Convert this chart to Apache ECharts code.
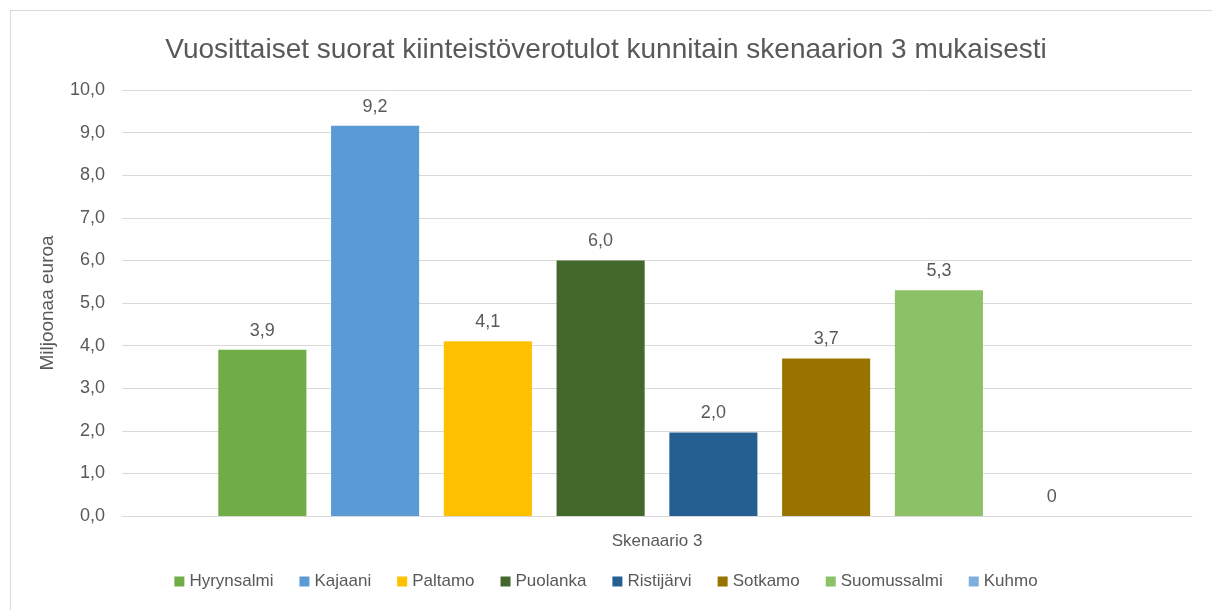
<!DOCTYPE html>
<html>
<head>
<meta charset="utf-8">
<script src="https://cdn.jsdelivr.net/npm/echarts@6/dist/echarts.min.js"></script>
<style>
  html, body { margin: 0; padding: 0; background: #ffffff; }
  #frame { position: absolute; left: 10px; top: 10px; width: 1210px; height: 610px; border: 1px solid #d9d9d9; box-sizing: border-box; }
  #main { position: absolute; left: 0; top: 0; width: 1212px; height: 610px; }
</style>
</head>
<body>
<div id="frame"></div>
<div id="main"></div>
<script>
var categories = ['Skenaario 3'];
var kunnat = ['Hyrynsalmi', 'Kajaani', 'Paltamo', 'Puolanka', 'Ristijärvi', 'Sotkamo', 'Suomussalmi', 'Kuhmo'];
var arvot = [3.9, 9.16, 4.1, 6.0, 1.96, 3.7, 5.3, 0];
var varit = ['#70AD47', '#5B9BD5', '#FFC000', '#43682B', '#255E91', '#997300', '#8CC168', '#7CAFDD'];
var yTicks = { min: 0, max: 10, interval: 1 };

var fontName = 'Liberation Sans';
var textColor = '#595959';

function fmt (v) {
    if (v === 0) return '0';
    return v.toFixed(1).replace('.', ',');
}

var option = {
    animation: false,
    title: {
        text: 'Vuosittaiset suorat kiinteistöverotulot kunnitain skenaarion 3 mukaisesti',
        left: 'center',
        top: 31,
        textStyle: { fontFamily: fontName, fontSize: 28, fontWeight: 'normal', color: textColor }
    },
    legend: {
        data: kunnat,
        bottom: 15,
        left: 'center',
        icon: 'rect',
        itemWidth: 10,
        itemHeight: 10,
        itemGap: 26,
        textStyle: { fontFamily: fontName, fontSize: 17, color: textColor }
    },
    grid: { left: 122, right: 20, top: 90, bottom: 94, containLabel: false },
    xAxis: {
        type: 'category',
        data: categories,
        axisLine: { lineStyle: { color: '#d9d9d9' } },
        axisTick: { show: false },
        axisLabel: { fontFamily: fontName, fontSize: 17, color: textColor, margin: 17 }
    },
    yAxis: {
        type: 'value',
        min: yTicks.min,
        max: yTicks.max,
        interval: yTicks.interval,
        name: 'Miljoonaa euroa',
        nameLocation: 'middle',
        nameGap: 65,
        nameTextStyle: { fontFamily: fontName, fontSize: 19, color: textColor },
        axisLine: { show: false },
        axisTick: { show: false },
        splitLine: { lineStyle: { color: '#d9d9d9' } },
        axisLabel: {
            fontFamily: fontName, fontSize: 18, color: textColor, margin: 17,
            formatter: function (v) { return v.toFixed(1).replace('.', ','); }
        }
    },
    series: (function () {
        var s = [];
        for (var i = 0; i < kunnat.length; i++) {
            s.push({
                name: kunnat[i],
                type: 'bar',
                data: [arvot[i]],
                barGap: '28%',
                barCategoryGap: '18%',
                itemStyle: { color: varit[i] },
                label: {
                    show: true,
                    position: 'top',
                    distance: 10,
                    fontFamily: fontName,
                    fontSize: 18,
                    color: textColor,
                    formatter: function (p) { return fmt(p.value); }
                }
            });
        }
        return s;
    }()),
    color: varit
};

var chart = echarts.init(document.getElementById('main'));
chart.setOption(option);
</script>
</body>
</html>
